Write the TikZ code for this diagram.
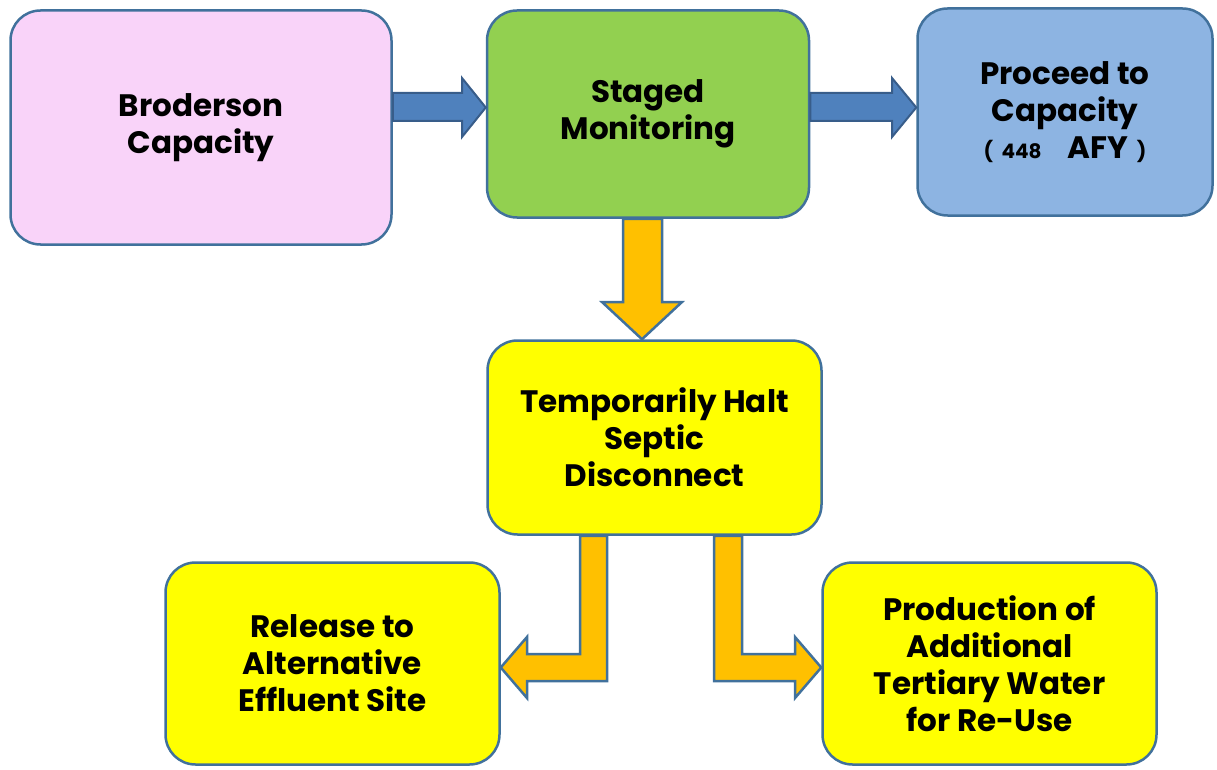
\documentclass[tikz,border=0pt]{standalone}
\usepackage{fontspec}
\setmainfont{Poppins}
\usetikzlibrary{calc}
\definecolor{edgeblue}{HTML}{41719C}
\definecolor{arrowblue}{HTML}{4F81BD}
\definecolor{arrowedge}{HTML}{385D8A}
\definecolor{pinkbox}{HTML}{F9D3F9}
\definecolor{greenbox}{HTML}{92D050}
\definecolor{bluebox}{HTML}{8DB4E2}
\definecolor{yellowbox}{HTML}{FFFF00}
\definecolor{orangearrow}{HTML}{FFC000}

\begin{document}
\begin{tikzpicture}[x=1pt,y=-1pt,line cap=round,line join=round,
    box/.style={draw=edgeblue,line width=2.5pt,rounded corners=30pt,align=center,
        font=\bfseries\fontsize{31}{37}\selectfont,inner sep=0pt},
    bluearrow/.style={fill=arrowblue,draw=arrowedge,line width=2pt,line join=miter},
    goldarrow/.style={fill=orangearrow,draw=edgeblue,line width=2.5pt,line join=miter}]
        \useasboundingbox (0,0) rectangle (1217,770);
        % top row
        \node[box,fill=pinkbox,minimum width=381pt,minimum height=234pt] (brod) at (201,127.5) {Broderson\\Capacity};
        \node[box,fill=greenbox,minimum width=322pt,minimum height=207pt] (staged) at (648,114) {Staged\\Monitoring};
        \node[box,fill=bluebox,minimum width=295pt,minimum height=207pt] (proceed) at (1065,112)
            {Proceed to\\Capacity\\{\fontsize{20}{37}\selectfont(\ \ 448}\ \ \ \ AFY{\fontsize{20}{37}\selectfont\ \ )}};
        % middle and bottom
        \node[box,fill=yellowbox,minimum width=334pt,minimum height=194pt] (halt) at (654.5,437.5) {Temporarily Halt\\Septic\\Disconnect};
        \node[box,fill=yellowbox,minimum width=334pt,minimum height=202pt] (release) at (332.5,663.5) {Release to\\Alternative\\Effluent Site};
        \node[box,fill=yellowbox,minimum width=334pt,minimum height=202pt] (product) at (989.5,663.5) {Production of\\Additional\\Tertiary Water\\for Re-Use};

        % block arrows
        \draw[bluearrow] (brod.east |- 0,93) -- (462,93) -- (462,78) -- (staged.west |- 0,107.5)
            -- (462,137) -- (462,121) -- (brod.east |- 0,121) -- cycle;
        \draw[bluearrow] (staged.east |- 0,93) -- (892,93) -- (892,78) -- (proceed.west |- 0,107.5)
            -- (892,137) -- (892,121) -- (staged.east |- 0,121) -- cycle;
        \draw[goldarrow] (staged.south -| 623,0) -- (623,302) -- (602,302) -- (halt.north -| 642,0)
            -- (682,302) -- (662,302) -- (staged.south -| 662,0) -- cycle;
        \draw[goldarrow] (halt.south -| 607,0) -- (607,681) -- (527,681) -- (527,698) -- (release.east |- 0,667.5)
            -- (527,637) -- (527,654) -- (580,654) -- (halt.south -| 580,0) -- cycle;
        \draw[goldarrow] (halt.south -| 714,0) -- (714,681) -- (795,681) -- (795,698) -- (product.west |- 0,667.5)
            -- (795,637) -- (795,654) -- (742,654) -- (halt.south -| 742,0) -- cycle;
\end{tikzpicture}
\end{document}
